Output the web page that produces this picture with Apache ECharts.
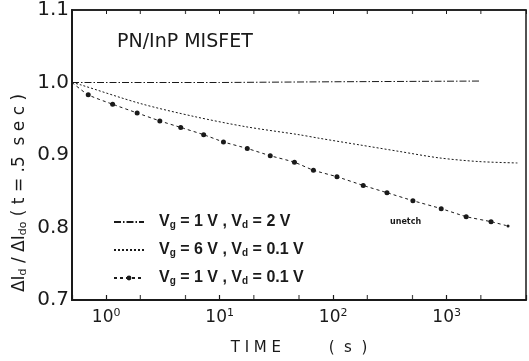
<!DOCTYPE html>
<html>
<head>
<meta charset="utf-8">
<script src="https://cdn.jsdelivr.net/npm/echarts@6/dist/echarts.min.js"></script>
<style>
  html, body { margin: 0; padding: 0; background: #fff; }
  #chart { width: 529px; height: 361px; }
</style>
</head>
<body>
<div id="chart"></div>
<script>
// series names (legend)
const seriesNames = ['Vg = 1 V , Vd = 2 V', 'Vg = 6 V , Vd = 0.1 V', 'Vg = 1 V , Vd = 0.1 V']

// Vg=1V, Vd=2V  (flat dash-dot)
const timeA = [0.5, 10, 100, 2000]
const ratioA = [1.0, 1.0, 1.001, 1.002]

// Vg=6V, Vd=0.1V  (dotted)
const timeB = [0.5, 0.59, 2, 6, 17, 50, 76, 170, 380, 860, 1900, 4200]
const ratioB = [1.0, 0.997, 0.971, 0.953, 0.939, 0.928, 0.923, 0.914, 0.905, 0.896, 0.891, 0.889]

// Vg=1V, Vd=0.1V  (dashed with dots)
const timeC = [0.5, 0.695, 1.14, 1.875, 2.97, 4.54, 7.23, 10.8, 17.5, 27.9, 45.6, 67, 108, 184, 298, 504, 895, 1485, 2460, 3475]
const ratioC = [1.0, 0.983, 0.970, 0.958, 0.947, 0.938, 0.928, 0.918, 0.909, 0.899, 0.890, 0.879, 0.870, 0.858, 0.848, 0.837, 0.826, 0.815, 0.808, 0.802]

// minor tick positions on the time axis
const minorTicks = [2, 5, 20, 50, 200, 500, 2000]
const yTicks = [0.7, 0.8, 0.9, 1.0, 1.1]

const ink = '#1a1a1a'
const font = 'DejaVu Sans'
const zip = (xs, ys) => xs.map((x, i) => [x, ys[i]])

const chart = echarts.init(document.getElementById('chart'), null, { renderer: 'canvas' })

const xLabelFmt = (v) => {
  const e = Math.round(Math.log10(v))
  if (Math.abs(Math.log10(v) - e) > 1e-6) return ''
  return '{b|10}{e|' + e + '}'
}

chart.setOption({
  animation: false,
  backgroundColor: '#fff',
  grid: { left: 72, right: 2, top: 10, bottom: 61, show: true, borderColor: ink, borderWidth: 1.5 },
  xAxis: [
    {
      type: 'log',
      logBase: 10,
      min: 0.5,
      max: 5000,
      name: 'T I M E          (  s  )',
      nameLocation: 'middle',
      nameGap: 41,
      nameTextStyle: { fontFamily: font, fontSize: 15, color: ink },
      axisLine: { lineStyle: { color: ink, width: 2 } },
      axisTick: { inside: true, length: 5, lineStyle: { color: ink, width: 1.2 } },
      splitLine: { show: false },
      minorTick: { show: false },
      axisLabel: {
        margin: 8,
        color: ink,
        formatter: xLabelFmt,
        rich: {
          b: { fontFamily: font, fontSize: 17, color: ink },
          e: { fontFamily: font, fontSize: 11, color: ink, verticalAlign: 'top', padding: [0, 0, 8, 0] },
        },
      },
    },
    {
      type: 'log',
      logBase: 10,
      min: 0.5,
      max: 5000,
      position: 'top',
      axisLine: { lineStyle: { color: ink, width: 1.5 } },
      axisTick: { inside: true, length: 4, lineStyle: { color: ink } },
      axisLabel: { show: false },
      splitLine: { show: false },
    },
  ],
  yAxis: {
    type: 'value',
    min: yTicks[0],
    max: yTicks[yTicks.length - 1],
    interval: 0.1,
    axisLine: { show: true, lineStyle: { color: ink, width: 2 } },
    axisTick: { show: false },
    splitLine: { show: false },
    axisLabel: {
      margin: 3,
      fontFamily: font,
      fontSize: 20,
      color: ink,
      formatter: (v) => v.toFixed(1),
    },
  },
  legend: {
    data: [
      { name: seriesNames[0], itemStyle: { opacity: 0 } },
      { name: seriesNames[1], itemStyle: { opacity: 0 } },
      { name: seriesNames[2] },
    ],
    orient: 'vertical',
    left: 108,
    top: 209,
    itemWidth: 30,
    itemHeight: 6,
    itemGap: 12,
    formatter: (n) => n.replace(/V([gd])/g, 'V{s|$1}'),
    textStyle: {
      fontFamily: 'Liberation Sans',
      fontSize: 16,
      fontWeight: 'bold',
      color: ink,
      padding: [0, 0, 0, 10],
      rich: {
        s: { fontFamily: 'Liberation Sans', fontSize: 10, fontWeight: 'bold', color: ink, verticalAlign: 'bottom', padding: [5, 0, 0, 0] },
      },
    },
  },
  graphic: [
    {
      type: 'text',
      left: 117,
      top: 33,
      style: { text: 'PN/InP MISFET', font: '19px "DejaVu Sans"', fill: ink },
    },
    {
      type: 'text',
      left: 390,
      top: 218,
      style: { text: 'unetch', font: 'bold 8px "DejaVu Sans"', fill: ink },
    },
    {
      type: 'text',
      x: 20,
      y: 193,
      rotation: Math.PI / 2,
      style: {
        text: 'ΔI{s|d} / ΔI{s|do} ( t = .5  s e c )',
        align: 'center',
        verticalAlign: 'middle',
        font: '17px "DejaVu Sans"',
        fill: ink,
        rich: {
          s: { font: '11px "DejaVu Sans"', fill: ink, verticalAlign: 'bottom', padding: [5, 0, 0, 0] },
        },
      },
    },
  ],
  series: [
    {
      name: seriesNames[0],
      type: 'line',
      data: zip(timeA, ratioA),
      symbol: 'none',
      lineStyle: { color: ink, width: 1, type: [7, 2, 1.5, 2] },
      itemStyle: { color: ink },
    },
    {
      name: seriesNames[1],
      type: 'line',
      smooth: 0.3,
      data: zip(timeB, ratioB),
      symbol: 'none',
      lineStyle: { color: ink, width: 1, type: [2, 2] },
      itemStyle: { color: ink },
    },
    {
      name: seriesNames[2],
      type: 'line',
      smooth: 0.2,
      data: zip(timeC, ratioC),
      symbol: 'circle',
      symbolSize: (v, p) => (p.dataIndex === 0 ? 0 : p.dataIndex === timeC.length - 1 ? 3 : 5),
      lineStyle: { color: ink, width: 1, type: [3, 3] },
      itemStyle: { color: ink },
    },
    {
      name: 'minorBottom',
      type: 'scatter',
      silent: true,
      data: minorTicks.map((t) => [t, yTicks[0]]),
      symbol: 'rect',
      symbolSize: [1.2, 5],
      symbolOffset: [0, -2.5],
      itemStyle: { color: ink },
      clip: false,
    },
    {
      name: 'minorTop',
      type: 'scatter',
      silent: true,
      data: minorTicks.map((t) => [t, yTicks[yTicks.length - 1]]),
      symbol: 'rect',
      symbolSize: [1.2, 4],
      symbolOffset: [0, 2],
      itemStyle: { color: ink },
      clip: false,
    },
  ],
})

window.addEventListener('resize', () => chart.resize())
</script>
</body>
</html>
